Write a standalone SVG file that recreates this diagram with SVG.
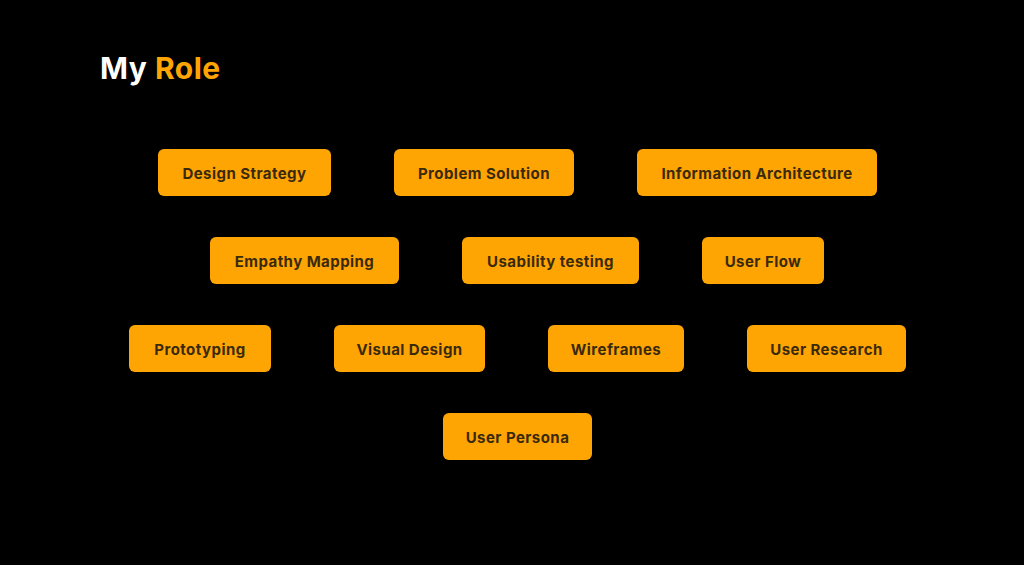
<svg xmlns="http://www.w3.org/2000/svg" width="1024" height="565" viewBox="0 0 1024 565">
<style>
.box{fill:#FFA503}
.lbl{font-family:Inter,"DejaVu Sans",sans-serif;font-weight:700;font-size:15px;letter-spacing:0.45px;fill:#3a2a0c;text-anchor:middle;dominant-baseline:central}
.title{font-family:Inter,"DejaVu Sans",sans-serif;font-weight:700;font-size:30px;letter-spacing:0.5px}
</style>
<rect width="1024" height="565" fill="#000"/>
<text class="title" x="100" y="79"><tspan fill="#fff">My </tspan><tspan fill="#FFA503">Role</tspan></text>
<g id="connectors"/>
<g id="n1"><rect class="box" x="158" y="149" width="173" height="47" rx="6"/><text class="lbl" x="244.5" y="173">Design Strategy</text></g>
<g id="n2"><rect class="box" x="394" y="149" width="180" height="47" rx="6"/><text class="lbl" x="484" y="173">Problem Solution</text></g>
<g id="n3"><rect class="box" x="637" y="149" width="240" height="47" rx="6"/><text class="lbl" x="757" y="173">Information Architecture</text></g>
<g id="n4"><rect class="box" x="210" y="237" width="189" height="47" rx="6"/><text class="lbl" x="304.5" y="261">Empathy Mapping</text></g>
<g id="n5"><rect class="box" x="462" y="237" width="177" height="47" rx="6"/><text class="lbl" x="550.5" y="261">Usability testing</text></g>
<g id="n6"><rect class="box" x="702" y="237" width="122" height="47" rx="6"/><text class="lbl" x="763" y="261">User Flow</text></g>
<g id="n7"><rect class="box" x="129" y="325" width="142" height="47" rx="6"/><text class="lbl" x="200" y="349">Prototyping</text></g>
<g id="n8"><rect class="box" x="334" y="325" width="151" height="47" rx="6"/><text class="lbl" x="409.5" y="349">Visual Design</text></g>
<g id="n9"><rect class="box" x="548" y="325" width="136" height="47" rx="6"/><text class="lbl" x="616" y="349">Wireframes</text></g>
<g id="n10"><rect class="box" x="747" y="325" width="159" height="47" rx="6"/><text class="lbl" x="826.5" y="349">User Research</text></g>
<g id="n11"><rect class="box" x="443" y="413" width="149" height="47" rx="6"/><text class="lbl" x="517.5" y="437">User Persona</text></g>
</svg>
